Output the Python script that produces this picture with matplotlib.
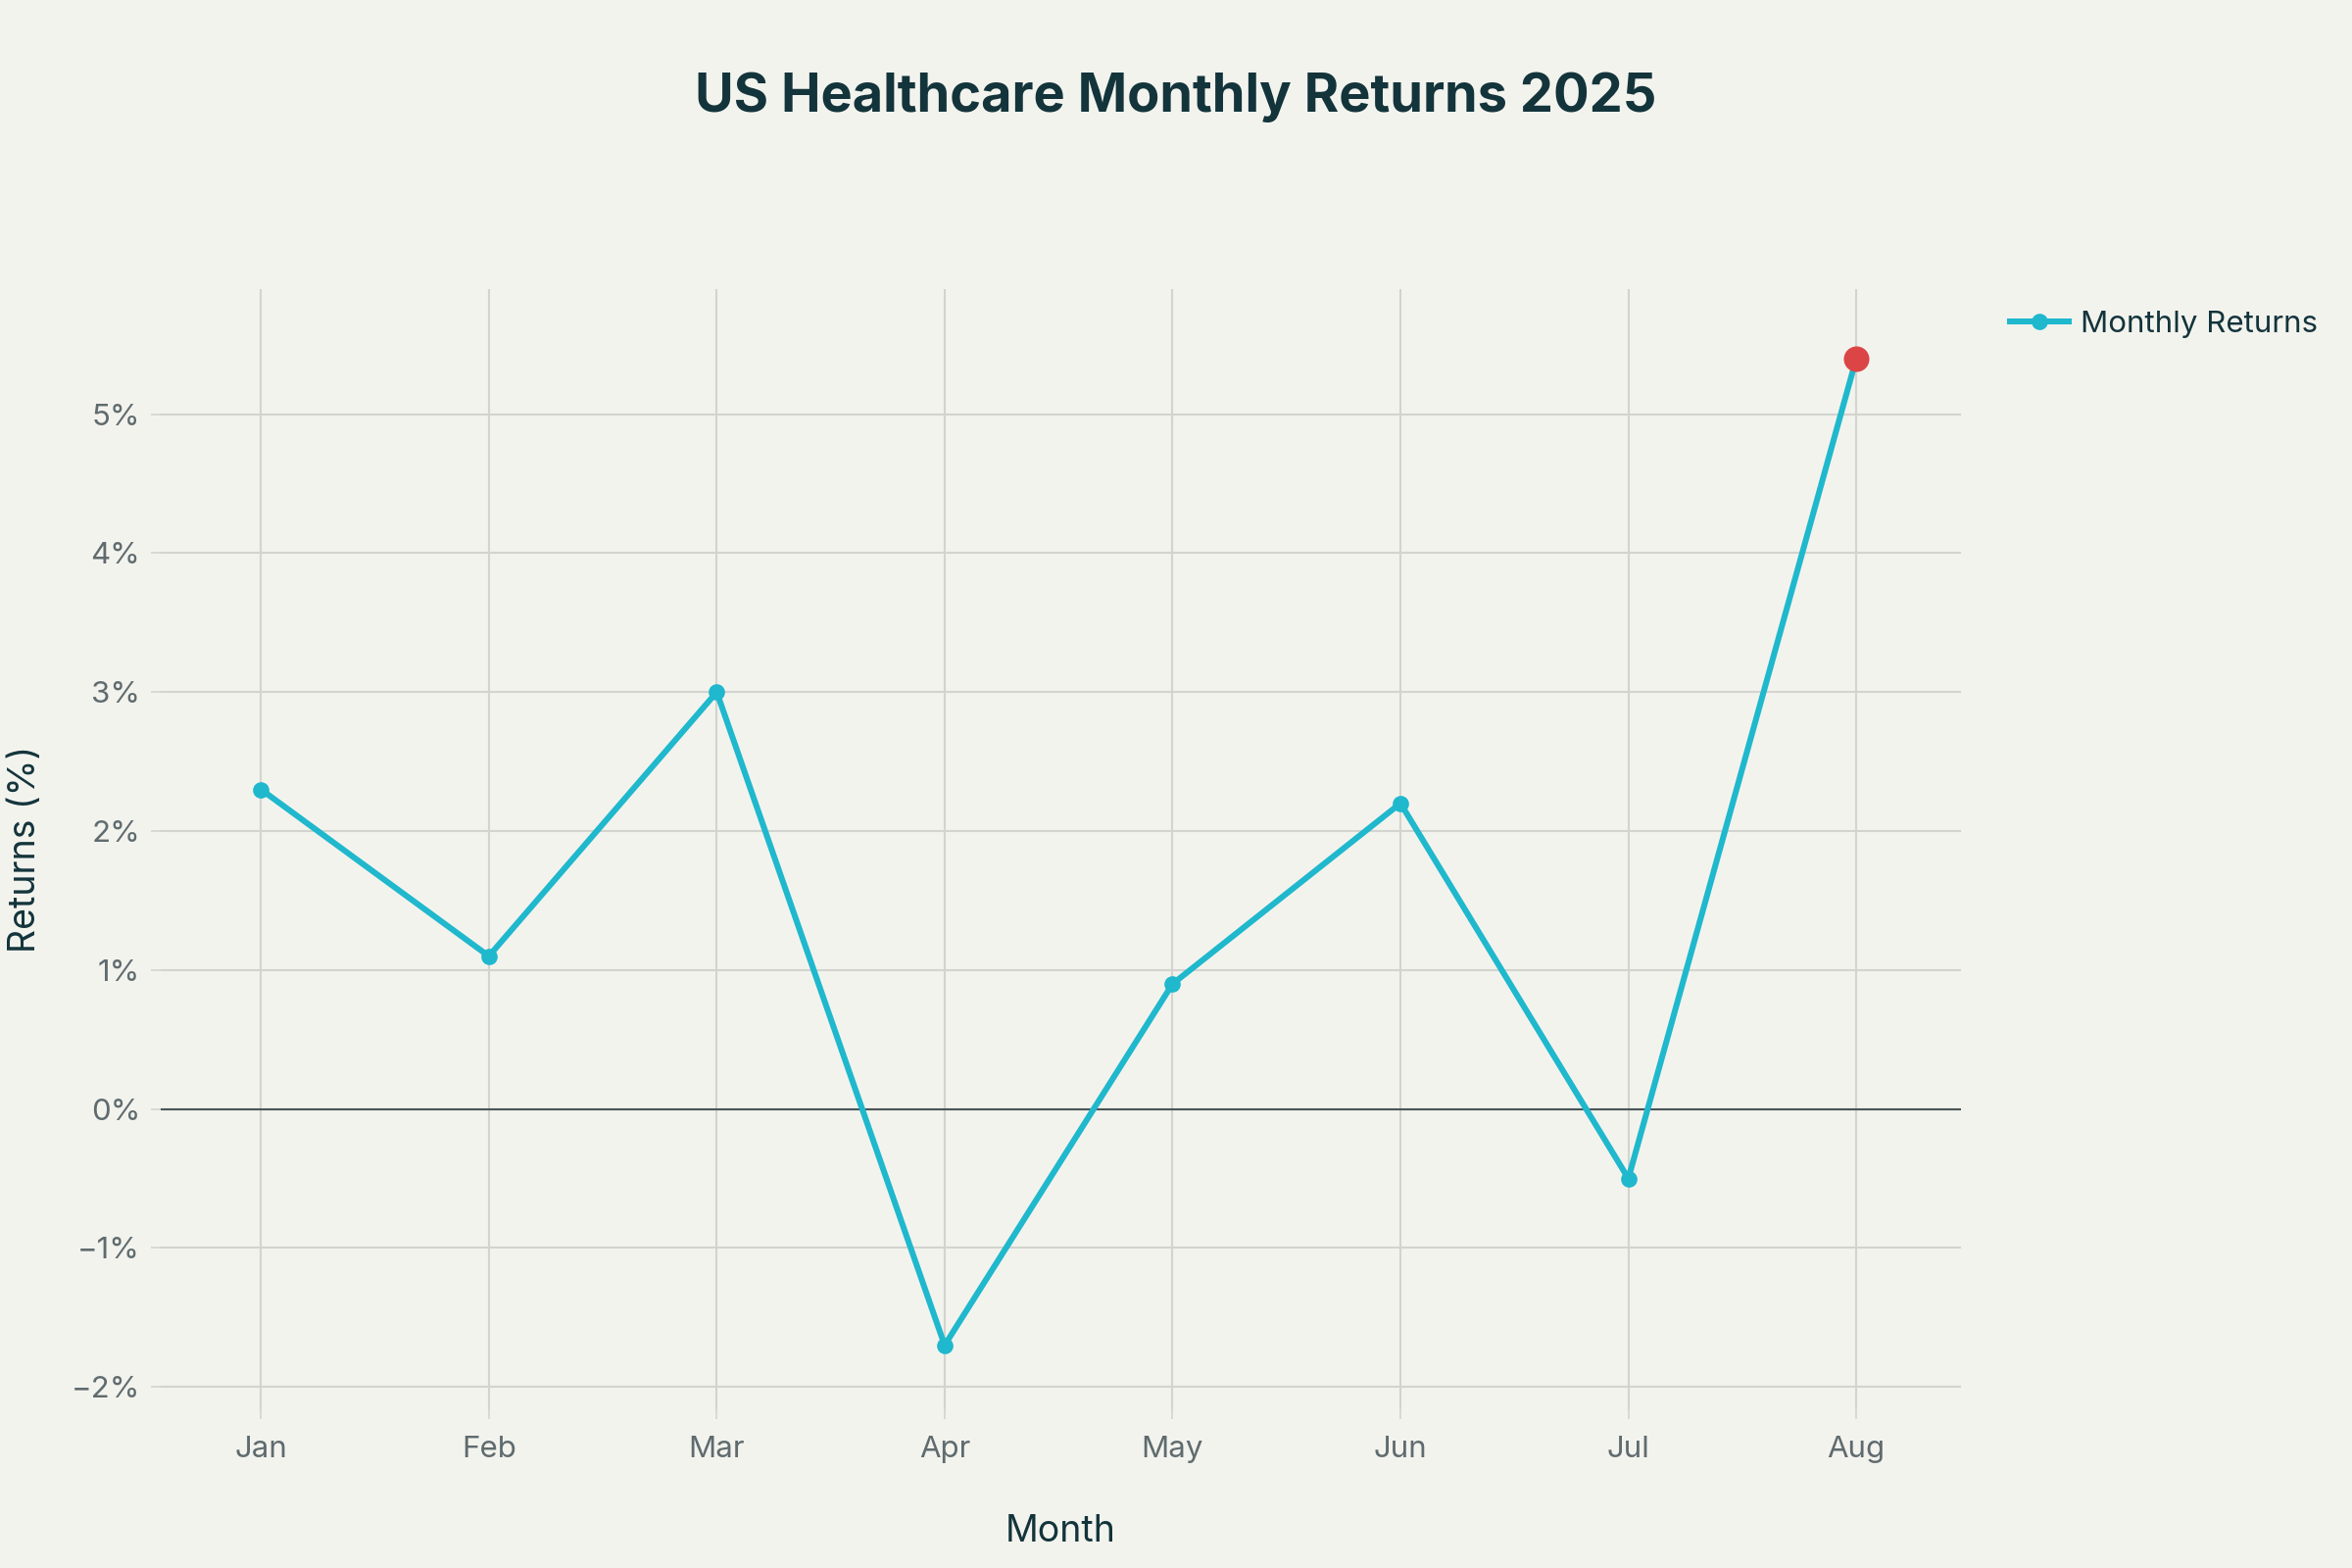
import matplotlib
matplotlib.use("Agg")
from matplotlib import pyplot as plt

# chart data
months = ['Jan', 'Feb', 'Mar', 'Apr', 'May', 'Jun', 'Jul', 'Aug']
returns = [2.3, 1.1, 3.0, -1.7, 0.9, 2.2, -0.5, 5.4]
y_ticks = [-2, -1, 0, 1, 2, 3, 4, 5]
y_tick_labels = ['\u22122%', '\u22121%', '0%', '1%', '2%', '3%', '4%', '5%']

bg = '#F3F3EE'
line_col = '#1FB8CD'
red = '#DB4545'
dark = '#13343B'
grey_txt = '#5F6B6E'
grid_col = '#D3D3CF'

plt.rcParams['font.family'] = ['Inter', 'DejaVu Sans']

fig = plt.figure(figsize=(16, 16 * 2 / 3), dpi=150, facecolor=bg)
ax = fig.add_axes([0.0683, 0.1013, 0.8338 - 0.0683, 0.8156 - 0.1013])
ax.set_facecolor(bg)

x = list(range(len(months)))
ax.plot(x, returns, color=line_col, linewidth=2.9, marker='o', markersize=7,
        label='Monthly Returns', zorder=3)
# highlight latest month
ax.plot(x[-1], returns[-1], 'o', color=red, markersize=11.5, zorder=4)

ax.axhline(0, color='#4A5558', linewidth=1.0, zorder=2)

ax.set_xlim(-0.44, 7.46)
ax.set_ylim(-2.16, 5.90)
ax.set_xticks(x)
ax.set_xticklabels(months)
ax.set_yticks(y_ticks)
ax.set_yticklabels(y_tick_labels)

ax.grid(True, color=grid_col, linewidth=1.0, zorder=1)
for s in ax.spines.values():
    s.set_visible(False)
ax.tick_params(axis='both', colors=grid_col, labelcolor=grey_txt, labelsize=15,
               length=5, width=0.8)
ax.tick_params(axis='x', pad=8)
ax.tick_params(axis='y', pad=5)

ax.set_xlabel('Month', fontsize=18, color=dark, labelpad=25)
ax.set_ylabel('Returns (%)', fontsize=18, color=dark, labelpad=14)

fig.text(0.5, 0.938, 'US Healthcare Monthly Returns 2025', ha='center', va='center',
         fontsize=26, fontweight='bold', color=dark)

leg = fig.legend(loc='center left', bbox_to_anchor=(0.843, 0.793), frameon=False,
                 fontsize=15, handlelength=1.9, handletextpad=0.4, labelcolor=dark)

fig.savefig('out.png', dpi=150, facecolor=bg)
